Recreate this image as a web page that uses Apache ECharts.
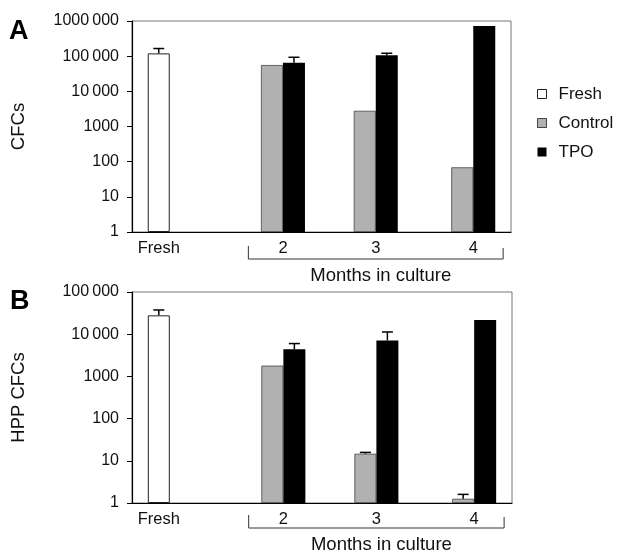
<!DOCTYPE html>
<html>
<head>
<meta charset="utf-8">
<script src="https://cdn.jsdelivr.net/npm/echarts@6/dist/echarts.min.js"></script>
<style>
	html, body { margin: 0; padding: 0; background: #fff; }
	#main { width: 621px; height: 555px; }
</style>
</head>
<body>
<div id="main"></div>
<script>
// 数据
var groups = ['Fresh', '2', '3', '4'];
var legendNames = ['Fresh', 'Control', 'TPO'];

// A: CFCs
var freshA = [120000];
var freshErrA = [165000];
var controlA = [56000, 2800, 69];
var controlErrA = [null, null, null];
var tpoA = [65000, 106000, 720000];
var tpoErrA = [93000, 121000, null];

// B: HPP CFCs
var freshB = [28000];
var freshErrB = [37500];
var controlB = [1800, 14.7, 1.26];
var controlErrB = [null, 15.8, 1.6];
var tpoB = [4400, 7100, 21700];
var tpoErrB = [6000, 11300, null];

// 布局
var slots = [0, 3.95, 6.9, 10];
var xMin = -0.85, xMax = 11.2;
var barW = 22;
var font = 'Liberation Sans, Arial, sans-serif';

var chart = echarts.init(document.getElementById('main'));

function fmtY(v) {
	var s = String(Math.round(v));
	if (v >= 10000) {
		s = s.slice(0, -3) + '\u2009' + s.slice(-3);
	}
	return s;
}

function pairs(xs, ys) {
	return ys.map(function (y, i) {
		return [xs[i], y];
	});
}

function errSeries(name, xi, yi, xs, vals, errs, dx) {
	var d = [];
	for (var i = 0; i < vals.length; i++) {
		if (errs[i] != null) d.push([xs[i], vals[i], errs[i]]);
	}
	return {
		name: name + ' err',
		type: 'custom',
		xAxisIndex: xi,
		yAxisIndex: yi,
		silent: true,
		z: 5,
		encode: { x: 0, y: [1, 2] },
		data: d,
		renderItem: function (params, api) {
			var base = api.coord([api.value(0), api.value(1)]);
			var top = api.coord([api.value(0), api.value(2)]);
			var x = base[0] + dx;
			return {
				type: 'group',
				children: [{
					type: 'line',
					shape: { x1: x, y1: base[1], x2: x, y2: top[1] },
					style: { stroke: '#000', lineWidth: 1.5 }
				}, {
					type: 'line',
					shape: { x1: x - 5.5, y1: top[1], x2: x + 5.5, y2: top[1] },
					style: { stroke: '#000', lineWidth: 1.5 }
				}]
			};
		}
	};
}

function xAxes(gi) {
	return [{
		gridIndex: gi,
		type: 'value',
		min: xMin,
		max: xMax,
		axisLine: { show: true, onZero: false, lineStyle: { color: '#000', width: 1.2 } },
		axisTick: { show: false },
		splitLine: { show: false },
		axisLabel: {
			customValues: slots,
			margin: 8,
			fontFamily: font,
			fontSize: 16.5,
			color: '#111',
			formatter: function (v) {
				var best = 0;
				for (var i = 1; i < slots.length; i++) {
					if (Math.abs(slots[i] - v) < Math.abs(slots[best] - v)) best = i;
				}
				return groups[best];
			}
		}
	}, {
		gridIndex: gi,
		type: 'value',
		min: xMin,
		max: xMax,
		show: false,
		axisLine: { onZero: false }
	}];
}

function yAxis(gi, max, name) {
	return {
		gridIndex: gi,
		type: 'log',
		logBase: 10,
		min: 1,
		max: max,
		name: name,
		nameLocation: 'middle',
		nameRotate: 90,
		nameGap: 104,
		nameTextStyle: { fontFamily: font, fontSize: 18.5, color: '#111' },
		axisLine: { show: true, onZero: false, lineStyle: { color: '#000', width: 1.2 } },
		axisTick: { show: true, length: 5, lineStyle: { color: '#000' } },
		splitLine: { show: false },
		axisLabel: {
			margin: 13,
			fontFamily: font,
			fontSize: 16,
			color: '#111',
			formatter: fmtY
		}
	};
}

function panelSeries(xi, yi, fresh, freshErr, control, controlErr, tpo, tpoErr) {
	var monthX = slots.slice(1);
	return [{
		name: 'Fresh',
		type: 'bar',
		xAxisIndex: xi + 1,
		yAxisIndex: yi,
		barWidth: barW,
		itemStyle: { color: '#fff', borderColor: '#222', borderWidth: 1 },
		data: pairs([slots[0]], fresh)
	}, {
		name: 'Control',
		type: 'bar',
		xAxisIndex: xi,
		yAxisIndex: yi,
		barWidth: barW,
		barGap: '0%',
		itemStyle: { color: '#b1b1b1', borderColor: '#444', borderWidth: 0.8 },
		data: pairs(monthX, control)
	}, {
		name: 'TPO',
		type: 'bar',
		xAxisIndex: xi,
		yAxisIndex: yi,
		barWidth: barW,
		barGap: '0%',
		itemStyle: { color: '#000' },
		data: pairs(monthX, tpo)
	},
	errSeries('Fresh', xi, yi, [slots[0]], fresh, freshErr, 0),
	errSeries('Control', xi, yi, monthX, control, controlErr, -barW / 2),
	errSeries('TPO', xi, yi, monthX, tpo, tpoErr, barW / 2)];
}

var option = {
	animation: false,
	backgroundColor: '#fff',
	grid: [
		{ left: 132, top: 21, width: 379, height: 211, show: true, borderColor: '#777', borderWidth: 1 },
		{ left: 132, top: 292, width: 380, height: 211, show: true, borderColor: '#777', borderWidth: 1 }
	],
	xAxis: xAxes(0).concat(xAxes(1)),
	yAxis: [yAxis(0, 1000000, 'CFCs'), yAxis(1, 100000, 'HPP CFCs')],
	legend: {
		orient: 'vertical',
		left: 532,
		top: 80,
		itemWidth: 9,
		itemHeight: 9,
		itemGap: 11,
		icon: 'rect',
		textStyle: { fontFamily: font, fontSize: 17, color: '#111', lineHeight: 18, padding: [0, 0, 0, 7] },
		data: [
			{ name: legendNames[0], itemStyle: { color: '#fff', borderColor: '#222', borderWidth: 1 } },
			{ name: legendNames[1], itemStyle: { color: '#b1b1b1', borderColor: '#444', borderWidth: 1 } },
			{ name: legendNames[2], itemStyle: { color: '#000', borderWidth: 0 } }
		]
	},
	series: panelSeries(0, 0, freshA, freshErrA, controlA, controlErrA, tpoA, tpoErrA)
		.concat(panelSeries(2, 1, freshB, freshErrB, controlB, controlErrB, tpoB, tpoErrB))
};

chart.setOption(option);

// 括号和标题
function bracket(xi, yBase) {
	var x1 = chart.convertToPixel({ xAxisIndex: xi }, 2.85);
	var x2 = chart.convertToPixel({ xAxisIndex: xi }, 10.95);
	return [{
		type: 'polyline',
		shape: { points: [[x1, yBase - 13], [x1, yBase], [x2, yBase], [x2, yBase - 11]] },
		style: { stroke: '#333', lineWidth: 1, fill: null }
	}, {
		type: 'text',
		x: (x1 + x2) / 2 + 5,
		y: yBase + 17,
		style: {
			text: 'Months in culture',
			font: '18.5px ' + font,
			fill: '#111',
			align: 'center',
			verticalAlign: 'middle'
		}
	}];
}

chart.setOption({
	graphic: [{
		type: 'text',
		left: 9,
		top: 18,
		style: { text: 'A', font: 'bold 27px ' + font, fill: '#000' }
	}, {
		type: 'text',
		left: 10,
		top: 288,
		style: { text: 'B', font: 'bold 27px ' + font, fill: '#000' }
	}].concat(bracket(0, 259), bracket(2, 528))
});
</script>
</body>
</html>
